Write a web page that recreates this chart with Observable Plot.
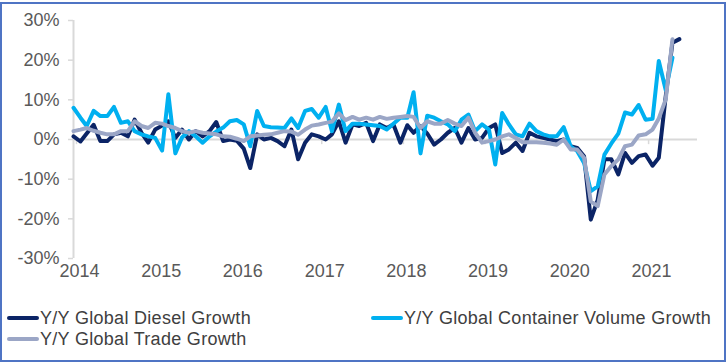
<!DOCTYPE html>
<html><head><meta charset="utf-8">
<script src="https://cdn.jsdelivr.net/npm/d3@7"></script>
<script src="https://cdn.jsdelivr.net/npm/@observablehq/plot@0.6"></script>
<style>
html,body{margin:0;padding:0;background:#fff;}
#wrap{position:relative;width:727px;height:364px;overflow:hidden;font-family:"Liberation Sans",Arial,sans-serif;}
#frame{position:absolute;left:0;top:2px;width:726px;height:360px;box-sizing:border-box;border:2px solid #4f74c4;}
#chart{position:absolute;left:0;top:0;}
.leg{position:absolute;display:flex;align-items:center;font-size:18px;line-height:20px;color:#404040;white-space:nowrap;letter-spacing:0.3px;}
.sw{display:inline-block;width:32px;height:4px;border-radius:2px;margin-right:1px;}
</style></head><body>
<div id="wrap"><div id="frame"></div><div id="chart"></div></div>
<script>
const startYear = 2014;
// Monthly Y/Y growth (%), Jan 2014 onward
const diesel = [
  0.8, -0.5, 1.5, 3.7, -0.4, -0.4, 1.3, 1.7, 0.8, 5.0, 1.7, -0.8,
  2.5, 3.5, 4.6, 0.4, 2.5, 0.0, 2.1, 0.8, 2.1, 4.4, -0.4, 0.0,
  -0.3, -2.3, -7.2, 1.3, 0.0, 0.4, -0.4, -1.7, 2.5, -5.0, -0.8, 1.3,
  0.8, 0.0, 1.3, 4.6, -0.8, 3.8, 3.4, 4.2, -0.4, 3.8, 2.9, 3.8,
  -0.8, 3.6, 1.7, 3.4, 1.5, -1.3, 0.0, 1.7, 2.9, -0.8, 2.9, 0.0,
  0.4, 2.9, 3.8, -3.4, -2.5, -0.8, -2.9, 1.7, 0.8, 0.4, 0.0, -0.4,
  0.0, -1.7, -2.1, -4.2, -20.2, -15.2, -5.0, -5.0, -8.8, -3.4, -5.9, -4.2,
  -3.8, -6.6, -4.6, 10.9, 24.4, 25.3
];
const container = [
  8.0, 5.5, 3.4, 7.2, 5.9, 5.9, 8.2, 4.2, 4.6, 2.1, 1.3, 0.8,
  0.4, -2.8, 11.4, -3.5, 0.5, 2.1, 0.8, -0.8, 0.8, 2.0, 3.0, 4.6,
  4.9, 3.8, -1.7, 7.2, 3.4, 3.1, 3.0, 2.9, 5.3, 2.9, 7.2, 7.7,
  5.5, 8.2, 2.1, 8.8, 2.1, 4.0, 4.0, 3.8, 3.6, 3.4, 2.5, 4.0,
  5.5, 5.5, 11.9, -3.5, 6.0, 5.5, 4.6, 3.8, 2.1, 5.0, 6.3, 2.1,
  3.8, 2.5, -6.3, 6.7, 3.8, 1.3, 0.8, 4.0, 2.1, 1.3, 0.8, 0.8,
  3.1, -1.7, -2.9, -5.9, -13.0, -11.8, -3.8, -1.0, 1.5, 6.8, 6.3, 8.7,
  5.0, 5.2, 19.8, 12.5, 20.6
];
const trade = [
  2.1, 2.5, 2.9, 2.2, 1.7, 1.3, 1.3, 2.1, 2.1, 4.6, 3.4, 2.9,
  4.2, 4.0, 3.4, 2.9, 2.1, 1.7, 2.1, 1.7, 1.5, 1.3, 0.8, 0.7,
  0.2, -0.4, 0.8, 1.0, 1.2, 1.3, 1.7, 2.1, 2.0, 1.2, 2.5, 3.5,
  3.8, 4.2, 4.5, 6.6, 4.9, 5.7, 5.0, 5.5, 5.0, 5.7, 5.2, 5.5,
  5.7, 5.9, 5.7, 2.9, 4.6, 4.0, 4.0, 4.9, 4.0, 3.4, 5.5, 1.7,
  -0.8, -0.4, 0.0, 0.8, 1.3, 0.4, -0.7, -0.7, -0.7, -0.8, -1.0, -1.3,
  0.0, -2.5, -2.5, -4.6, -15.6, -16.8, -8.8, -6.7, -5.0, -1.7, -1.3, 1.0,
  1.3, 2.5, 5.3, 10.1, 25.3
];
const yearTicks = [2014, 2015, 2016, 2017, 2018, 2019, 2020, 2021];
const yTicks = [-30, -20, -10, 0, 10, 20, 30];
const seriesNames = ["Y/Y Global Diesel Growth", "Y/Y Global Container Volume Growth", "Y/Y Global Trade Growth"];
const seriesColors = ["#0b2466", "#00b0f0", "#9ba6c6"];

const monthDate = i => new Date(Date.UTC(startYear, i, 1));
const toRows = arr => arr.map((v, i) => ({date: monthDate(i), value: v}));
const yearDates = yearTicks.map(y => new Date(Date.UTC(y, 0, 1)));

const lineOpts = c => ({x: "date", y: "value", stroke: c, strokeWidth: 4, strokeLinejoin: "round", strokeLinecap: "round"});

const chart = Plot.plot({
  width: 727,
  height: 290,
  marginLeft: 73,
  marginRight: 30,
  marginTop: 20,
  marginBottom: 32,
  style: {fontSize: "18px", fontFamily: "'Liberation Sans', Arial, sans-serif", background: "transparent"},
  x: {type: "utc", domain: [new Date(Date.UTC(2014, 0, 1)), new Date(Date.UTC(2021, 7, 21))]},
  y: {domain: [-30, 30]},
  marks: [
    Plot.ruleY([0], {stroke: "#d9d9d9", strokeWidth: 2}),
    Plot.ruleX(yearDates, {y1: 0, y2: -1.3, stroke: "#d9d9d9", strokeWidth: 1.5, dx: 3}),
    Plot.ruleX([new Date(Date.UTC(2014, 0, 1))], {stroke: "#d9d9d9", strokeWidth: 2}),
    Plot.axisY({ticks: yTicks, tickFormat: d => d + "%", tickSize: 5, tickPadding: 9, stroke: "#d9d9d9", strokeWidth: 1.5, fill: "#595959", label: null}),
    Plot.axisX({ticks: yearDates, tickFormat: d => String(d.getUTCFullYear()), tickSize: 0, tickPadding: 6, dx: 6, fill: "#595959", label: null}),
    Plot.line(toRows(diesel), lineOpts(seriesColors[0])),
    Plot.line(toRows(container), lineOpts(seriesColors[1])),
    Plot.line(toRows(trade), lineOpts(seriesColors[2]))
  ]
});
document.getElementById("chart").appendChild(chart);

const legendPos = [[7, 308], [371, 308], [7, 329]];
const wrap = document.getElementById("wrap");
seriesNames.forEach((name, k) => {
  const item = document.createElement("div");
  item.className = "leg";
  item.style.left = legendPos[k][0] + "px";
  item.style.top = legendPos[k][1] + "px";
  const sw = document.createElement("span");
  sw.className = "sw";
  sw.style.background = seriesColors[k];
  const tx = document.createElement("span");
  tx.textContent = name;
  item.appendChild(sw);
  item.appendChild(tx);
  wrap.appendChild(item);
});
</script>
</body></html>
